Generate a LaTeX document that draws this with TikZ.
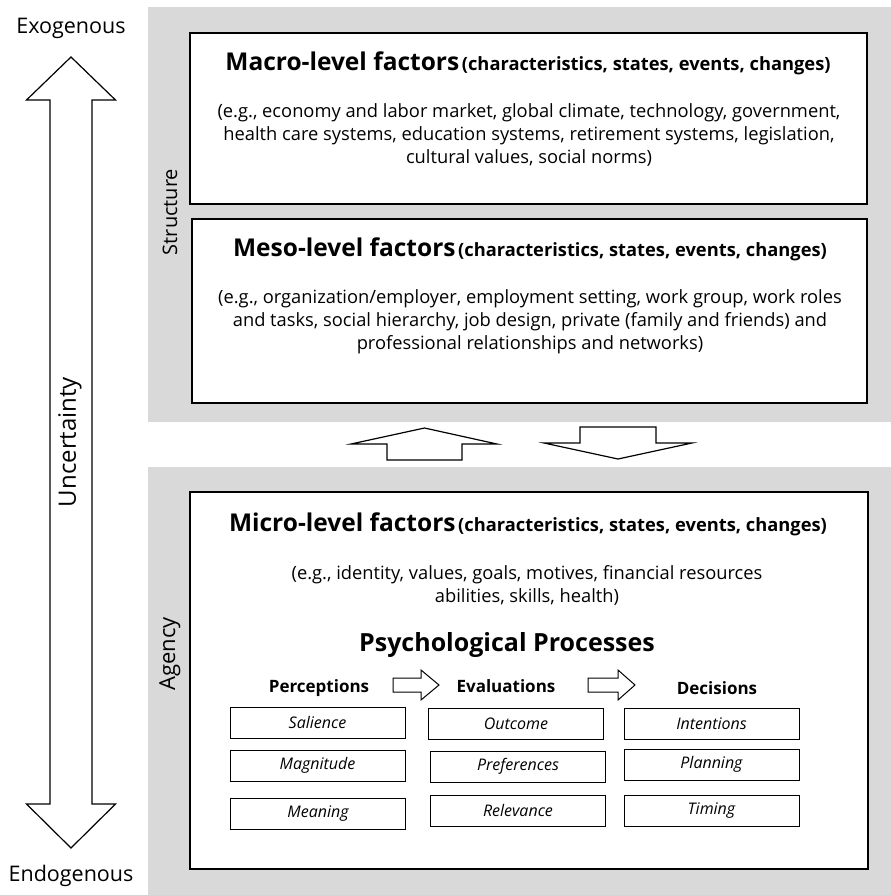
\documentclass[tikz,border=0pt]{standalone}
\usepackage{fontspec}
\setmainfont{Open Sans}
\definecolor{panelgray}{HTML}{D9D9D9}
\tikzset{
  bigbox/.style={draw=black, line width=1.4pt, fill=white, inner sep=0pt},
  smallbox/.style={draw=black, line width=1pt, fill=white, inner sep=0pt, minimum width=175pt, minimum height=31pt, font=\fontsize{16}{18}\selectfont\itshape},
  bodytext/.style={align=center, inner sep=0pt, font=\fontsize{18.3}{23}\selectfont},
  titletext/.style={inner sep=0pt, anchor=base},
  sidelabel/.style={inner sep=0pt, font=\fontsize{21.5}{24}\selectfont},
  header/.style={inner sep=0pt, font=\fontsize{17}{20}\selectfont\bfseries},
  fatarrow/.style={draw=black, line width=1.2pt, fill=white, line join=miter},
}
\newcommand{\bigtitle}[1]{{\fontsize{24.5}{28}\selectfont\bfseries #1}}
\newcommand{\subtitle}[1]{{\fontsize{18.3}{22}\selectfont\bfseries #1}}
\begin{document}
\begin{tikzpicture}[x=1pt,y=-1pt]
\useasboundingbox (0,0) rectangle (891,895);
% gray panels
\fill[panelgray] (148,7) rectangle (891,422);
\fill[panelgray] (148,467) rectangle (891,895);

% left double arrow
\draw[fatarrow] (71,57) -- (26.5,100) -- (50,100) -- (50,804) -- (26.5,804) -- (71,848)
  -- (115.5,804) -- (92,804) -- (92,100) -- (115.5,100) -- cycle;
\node[sidelabel] (exo) at (71,28) {Exogenous};
\node[sidelabel] (endo) at (71,876) {Endogenous};
\node[sidelabel, rotate=90, font=\fontsize{24}{26}\selectfont] (unc) at (70,442) {Uncertainty};
\node[sidelabel, rotate=90, font=\fontsize{20}{24}\selectfont] (struct) at (170,212) {Structure};
\node[sidelabel, rotate=90, font=\fontsize{22}{24}\selectfont] (agency) at (170,654) {Agency};

% macro box
\node[bigbox, minimum width=677pt, minimum height=171pt] (macro) at (528.5,118.5) {};
\node[titletext] (macrot) at (528,70) {\bigtitle{Macro-level factors} \subtitle{(characteristics, states, events, changes)}};
\node[bodytext] (macrob) at (529,135) {(e.g., economy and labor market, global climate, technology, government,\\
health care systems, education systems, retirement systems, legislation,\\
cultural values, social norms)};

% meso box
\node[bigbox, minimum width=675pt, minimum height=184pt] (meso) at (529.5,311) {};
\node[titletext] (mesot) at (530,256) {\bigtitle{Meso-level factors} \subtitle{(characteristics, states, events, changes)}};
\node[bodytext] (mesob) at (530,322) {(e.g., organization/employer, employment setting, work group, work roles\\
and tasks, social hierarchy, job design, private (family and friends) and\\
professional relationships and networks)};

% up / down arrows between panels
\draw[fatarrow] (424.5,428) -- (497,444) -- (462,444) -- (462,460) -- (387,460) -- (387,444) -- (351,444) -- cycle;
\draw[fatarrow] (580,427) -- (656,427) -- (656,443) -- (692,443) -- (618,459) -- (544,443) -- (580,443) -- cycle;

% micro box
\node[bigbox, minimum width=678pt, minimum height=377pt] (micro) at (529,680.5) {};
\node[titletext] (microt) at (528,531) {\bigtitle{Micro-level factors} \subtitle{(characteristics, states, events, changes)}};
\node[bodytext] (microb) at (527,585.5) {(e.g., identity, values, goals, motives, financial resources\\
abilities, skills, health)};
\node[inner sep=0pt, font=\fontsize{25}{28}\selectfont\bfseries] (psych) at (507,645) {Psychological Processes};

% headers
\node[header] (perc) at (319,688) {Perceptions};
\node[header] (eval) at (506,686) {Evaluations};
\node[header] (deci) at (717,688) {Decisions};

% small arrows
\draw[fatarrow, line width=1pt] (393,678) -- (421,678) -- (421,670) -- (439,685) -- (421,700) -- (421,692) -- (393,692) -- cycle;
\draw[fatarrow, line width=1pt] (588,678) -- (618,678) -- (618,670) -- (635,685) -- (618,700) -- (618,692) -- (588,692) -- cycle;

% small boxes
\node[smallbox] (sal) at (317.5,722.5) {Salience};
\node[smallbox] (mag) at (317.5,765.5) {Magnitude};
\node[smallbox] (mea) at (318,813.5) {Meaning};
\node[smallbox] (out) at (516,723.5) {Outcome};
\node[smallbox] (pre) at (518,766.5) {Preferences};
\node[smallbox] (rel) at (518,810.5) {Relevance};
\node[smallbox] (int) at (711.5,723.5) {Intentions};
\node[smallbox] (pla) at (711.5,764.5) {Planning};
\node[smallbox] (tim) at (711.5,810.5) {Timing};
\end{tikzpicture}
\end{document}
